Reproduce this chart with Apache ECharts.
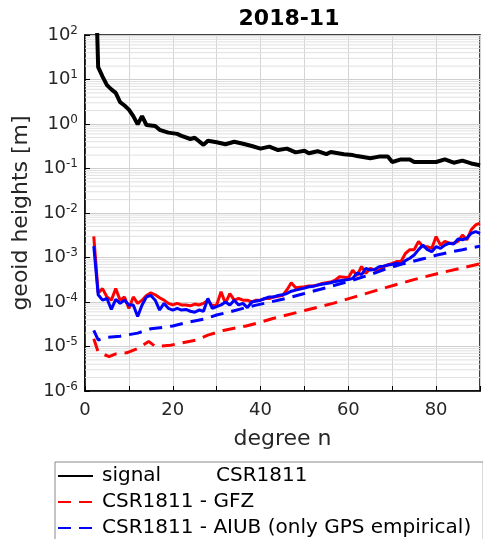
<!DOCTYPE html>
<html>
<head>
<meta charset="utf-8">
<script src="https://cdn.jsdelivr.net/npm/echarts@6/dist/echarts.min.js"></script>
<style>
html, body { margin: 0; padding: 0; background: #fff; }
#panel { width: 483px; height: 539px; }
</style>
</head>
<body>
<div id="panel"></div>
<script>
// degree n
var signalPts = [[2, 5e4], [3, 19], [4, 11.6], [5, 7.5], [6, 6], [7, 5], [8, 3.1], [9, 2.6], [10, 2.1], [11, 1.5],
    [12, 0.98], [13, 1.5], [14, 0.95], [16, 0.9], [17, 0.74], [19, 0.64], [21, 0.6], [22, 0.54], [24, 0.46], [25, 0.49],
    [27, 0.34], [28, 0.42], [30, 0.39], [32, 0.35], [34, 0.40], [36, 0.36], [38, 0.32], [40, 0.28], [42, 0.31], [44, 0.26],
    [46, 0.28], [48, 0.23], [50, 0.25], [51, 0.22], [53, 0.245], [55, 0.21], [56, 0.235], [59, 0.21], [61, 0.20], [62, 0.19],
    [65, 0.17], [67, 0.185], [69, 0.185], [70, 0.14], [72, 0.16], [74, 0.16], [75, 0.14], [80, 0.14], [82, 0.16], [84, 0.135],
    [86, 0.15], [88, 0.13], [90, 0.118]];

// solid lines, one value per degree starting at n = 2
var firstDegree = 2;
var gfzSolid = [3.0e-3, 1.6e-4, 2.0e-4, 1.3e-4, 1.1e-4, 2.0e-4, 1.1e-4, 1.3e-4, 7.2e-5, 1.3e-4,
    9.3e-5, 1.1e-4, 1.4e-4, 1.6e-4, 1.45e-4, 1.25e-4, 1.1e-4, 9.3e-5, 8.6e-5, 9.3e-5,
    8.6e-5, 8.6e-5, 8.2e-5, 9.0e-5, 8.6e-5, 9.3e-5, 1.1e-4, 8.2e-5, 8.6e-5, 1.7e-4,
    9.3e-5, 1.55e-4, 1.1e-4, 1.2e-4, 1.1e-4, 1.1e-4, 1.0e-4, 1.1e-4, 1.1e-4, 1.2e-4,
    1.2e-4, 1.3e-4, 1.35e-4, 1.4e-4, 1.86e-4, 2.7e-4, 2.1e-4, 2.15e-4, 2.2e-4, 2.3e-4,
    2.3e-4, 2.4e-4, 2.6e-4, 2.7e-4, 2.8e-4, 3.1e-4, 3.7e-4, 3.6e-4, 3.5e-4, 5.2e-4,
    3.9e-4, 6.3e-4, 4.4e-4, 5.7e-4, 5.2e-4, 5.2e-4, 6.2e-4, 6.8e-4, 7.4e-4, 8.1e-4,
    8.1e-4, 1.23e-3, 1.5e-3, 1.5e-3, 2.3e-3, 1.75e-3, 1.75e-3, 1.6e-3, 2.95e-3, 1.9e-3,
    2.3e-3, 2.1e-3, 2.1e-3, 2.3e-3, 3.2e-3, 2.5e-3, 4.2e-3, 5.4e-3, 5.9e-3];
var aiubSolid = [1.8e-3, 1.45e-4, 1.1e-4, 1.2e-4, 6.8e-5, 1.15e-4, 9.3e-5, 1.1e-4, 8.6e-5, 8.6e-5,
    4.7e-5, 8.6e-5, 1.3e-4, 1.4e-4, 1.1e-4, 6.6e-5, 9.3e-5, 7.2e-5, 6.6e-5, 7.2e-5,
    6.6e-5, 6.8e-5, 6.2e-5, 5.9e-5, 6.6e-5, 6.2e-5, 1.2e-4, 7.2e-5, 7.9e-5, 8.6e-5,
    1.0e-4, 8.6e-5, 1.1e-4, 8.6e-5, 9.3e-5, 7.5e-5, 1.0e-4, 1.05e-4, 1.1e-4, 1.2e-4,
    1.3e-4, 1.3e-4, 1.4e-4, 1.45e-4, 1.55e-4, 1.75e-4, 1.85e-4, 1.95e-4, 2.05e-4, 2.2e-4,
    2.25e-4, 2.4e-4, 2.5e-4, 2.6e-4, 2.7e-4, 2.9e-4, 3.0e-4, 3.1e-4, 3.2e-4, 3.4e-4,
    4.5e-4, 4.1e-4, 5.7e-4, 5.2e-4, 5.4e-4, 6.2e-4, 6.4e-4, 6.8e-4, 7.0e-4, 7.4e-4,
    7.1e-4, 8.5e-4, 9.6e-4, 1.14e-3, 1.5e-3, 1.9e-3, 1.5e-3, 1.35e-3, 1.75e-3, 1.6e-3,
    1.9e-3, 2.1e-3, 2.0e-3, 2.6e-3, 2.5e-3, 2.7e-3, 3.5e-3, 3.8e-3, 3.5e-3];

// dashed lines
var gfzDashed = [[2, 1.5e-5], [3, 7.5e-6], [5.5, 5.9e-6], [7, 6.8e-6], [9.5, 7.2e-6], [12, 9e-6], [14.5, 1.3e-5],
    [16, 1e-5], [19.5, 1.07e-5], [22, 1.2e-5], [25.5, 1.4e-5], [28, 1.8e-5], [31.5, 2.3e-5], [36.7, 2.9e-5],
    [39, 3.3e-5], [43, 4.3e-5], [50.5, 6.6e-5], [56.5, 9.3e-5], [62.5, 1.4e-4], [68.5, 2.1e-4], [74.5, 3.1e-4],
    [80.5, 4.4e-4], [86.5, 6e-4], [90, 7.2e-4]];
var aiubDashed = [[2, 2.3e-5], [3, 1.4e-5], [5, 1.6e-5], [8, 1.7e-5], [12, 2e-5], [15, 2.5e-5], [18, 2.7e-5],
    [20, 2.9e-5], [24, 3.6e-5], [27, 4.1e-5], [30, 5.1e-5], [33, 6e-5], [36, 7.2e-5], [39, 8.5e-5], [45, 1.15e-4],
    [50, 1.55e-4], [55, 2.1e-4], [60, 2.9e-4], [65, 4.1e-4], [68, 5.3e-4], [72, 7e-4], [77.5, 9.6e-4],
    [80, 1.12e-3], [83.5, 1.35e-3], [86, 1.5e-3], [90, 1.8e-3]];

var legendNames = ['signal', 'CSR1811 - GFZ', 'CSR1811 - AIUB (only GPS empirical)'];

function withDegrees(values)
{
    return values.map(function (v, i) { return [firstDegree + i, v]; });
}

// minor grid lines of the log axis (2..9 in each decade), as broken line segments
var minorGrid = [];
for (var e = -6; e < 2; e++)
{
    for (var m = 2; m < 10; m++)
    {
        var v = m * Math.pow(10, e);
        minorGrid.push([0, v], [90, v], ['-', '-']);
    }
}

var font = 'DejaVu Sans';
var myChart = echarts.init(document.getElementById('panel'));
myChart.setOption({
    animation: false,
    backgroundColor: '#fff',
    textStyle: { fontFamily: font },
    title: {
        text: '2018-11',
        left: 284,
        top: 3,
        textAlign: 'center',
        textStyle: { fontFamily: font, fontSize: 22, fontWeight: 'bold', color: '#000' }
    },
    grid: {
        left: 85, right: -2, top: 35, bottom: 148,
        show: true, borderColor: '#000', borderWidth: 1.5, backgroundColor: 'transparent'
    },
    legend: {
        data: legendNames,
        orient: 'vertical',
        left: 55,
        top: 462,
        height: 140,
        padding: [4, 12, 12, 2],
        itemGap: 6,
        itemWidth: 35,
        itemHeight: 4,
        borderColor: '#888',
        borderWidth: 1,
        borderRadius: 0,
        backgroundColor: '#fff',
        itemStyle: { opacity: 0 },
        textStyle: {
            fontFamily: font, fontSize: 20, color: '#000', padding: [0, 0, 0, 4],
            rich: {
                a: { fontFamily: font, fontSize: 20, color: '#000', width: 114 },
                b: { fontFamily: font, fontSize: 20, color: '#000' }
            }
        },
        formatter: function (name)
        {
            if (name === 'signal') return '{a|signal}{b|CSR1811}';
            return name;
        }
    },
    xAxis: {
        type: 'value',
        min: 0, max: 90, interval: 10,
        name: 'degree n',
        nameLocation: 'middle',
        nameGap: 37,
        nameTextStyle: { fontFamily: font, fontSize: 22, color: '#262626' },
        axisLine: { show: true, onZero: false, lineStyle: { color: '#000', width: 1.5 } },
        axisTick: { inside: true, length: 5, lineStyle: { color: '#000' } },
        axisLabel: {
            fontFamily: font, fontSize: 18, color: '#262626', margin: 10,
            formatter: function (v) { return v % 20 === 0 ? String(v) : ''; }
        },
        splitLine: { show: true, lineStyle: { color: '#d4d4d4', width: 1 } }
    },
    yAxis: {
        type: 'log',
        logBase: 10,
        min: 1e-6, max: 1e2,
        splitNumber: 8,
        name: 'geoid heights [m]',
        nameLocation: 'middle',
        nameGap: 51,
        nameTextStyle: { fontFamily: font, fontSize: 22, color: '#262626' },
        axisLine: { show: true, lineStyle: { color: '#000', width: 1.5 } },
        axisTick: { inside: true, length: 5, lineStyle: { color: '#000' } },
        axisLabel: {
            margin: 7,
            formatter: function (v)
            {
                var p = Math.round(Math.log(v) / Math.LN10);
                return '{b|10}{s|' + p + '}';
            },
            rich: {
                b: { fontFamily: font, fontSize: 18, color: '#262626' },
                s: { fontFamily: font, fontSize: 12, color: '#262626', padding: [0, 0, 9, 0] }
            }
        },
        splitLine: { show: true, lineStyle: { color: '#cfcfcf', width: 1 } }
    },
    series: [
        {
            name: 'minor',
            type: 'line',
            data: minorGrid,
            silent: true,
            symbol: 'none',
            connectNulls: false,
            z: 1,
            lineStyle: { width: 1, color: '#e0e0e0' },
            emphasis: { disabled: true }
        },
        {
            name: 'signal',
            type: 'line',
            data: signalPts,
            showSymbol: false, symbol: 'none',
            z: 6,
            lineStyle: { color: '#000', width: 4 },
            itemStyle: { color: '#000' }
        },
        {
            name: 'gfz solid',
            type: 'line',
            data: withDegrees(gfzSolid),
            showSymbol: false, symbol: 'none',
            z: 2,
            lineStyle: { color: '#ff0000', width: 3 },
            itemStyle: { color: '#ff0000' }
        },
        {
            name: 'CSR1811 - GFZ',
            type: 'line',
            data: gfzDashed,
            showSymbol: false, symbol: 'none',
            z: 3,
            lineStyle: { color: '#ff0000', width: 3, type: [13, 8] },
            itemStyle: { color: '#ff0000' }
        },
        {
            name: 'aiub solid',
            type: 'line',
            data: withDegrees(aiubSolid),
            showSymbol: false, symbol: 'none',
            z: 4,
            lineStyle: { color: '#0000ff', width: 3 },
            itemStyle: { color: '#0000ff' }
        },
        {
            name: 'CSR1811 - AIUB (only GPS empirical)',
            type: 'line',
            data: aiubDashed,
            showSymbol: false, symbol: 'none',
            z: 5,
            lineStyle: { color: '#0000ff', width: 3, type: [13, 8] },
            itemStyle: { color: '#0000ff' }
        }
    ]
});
</script>
</body>
</html>
